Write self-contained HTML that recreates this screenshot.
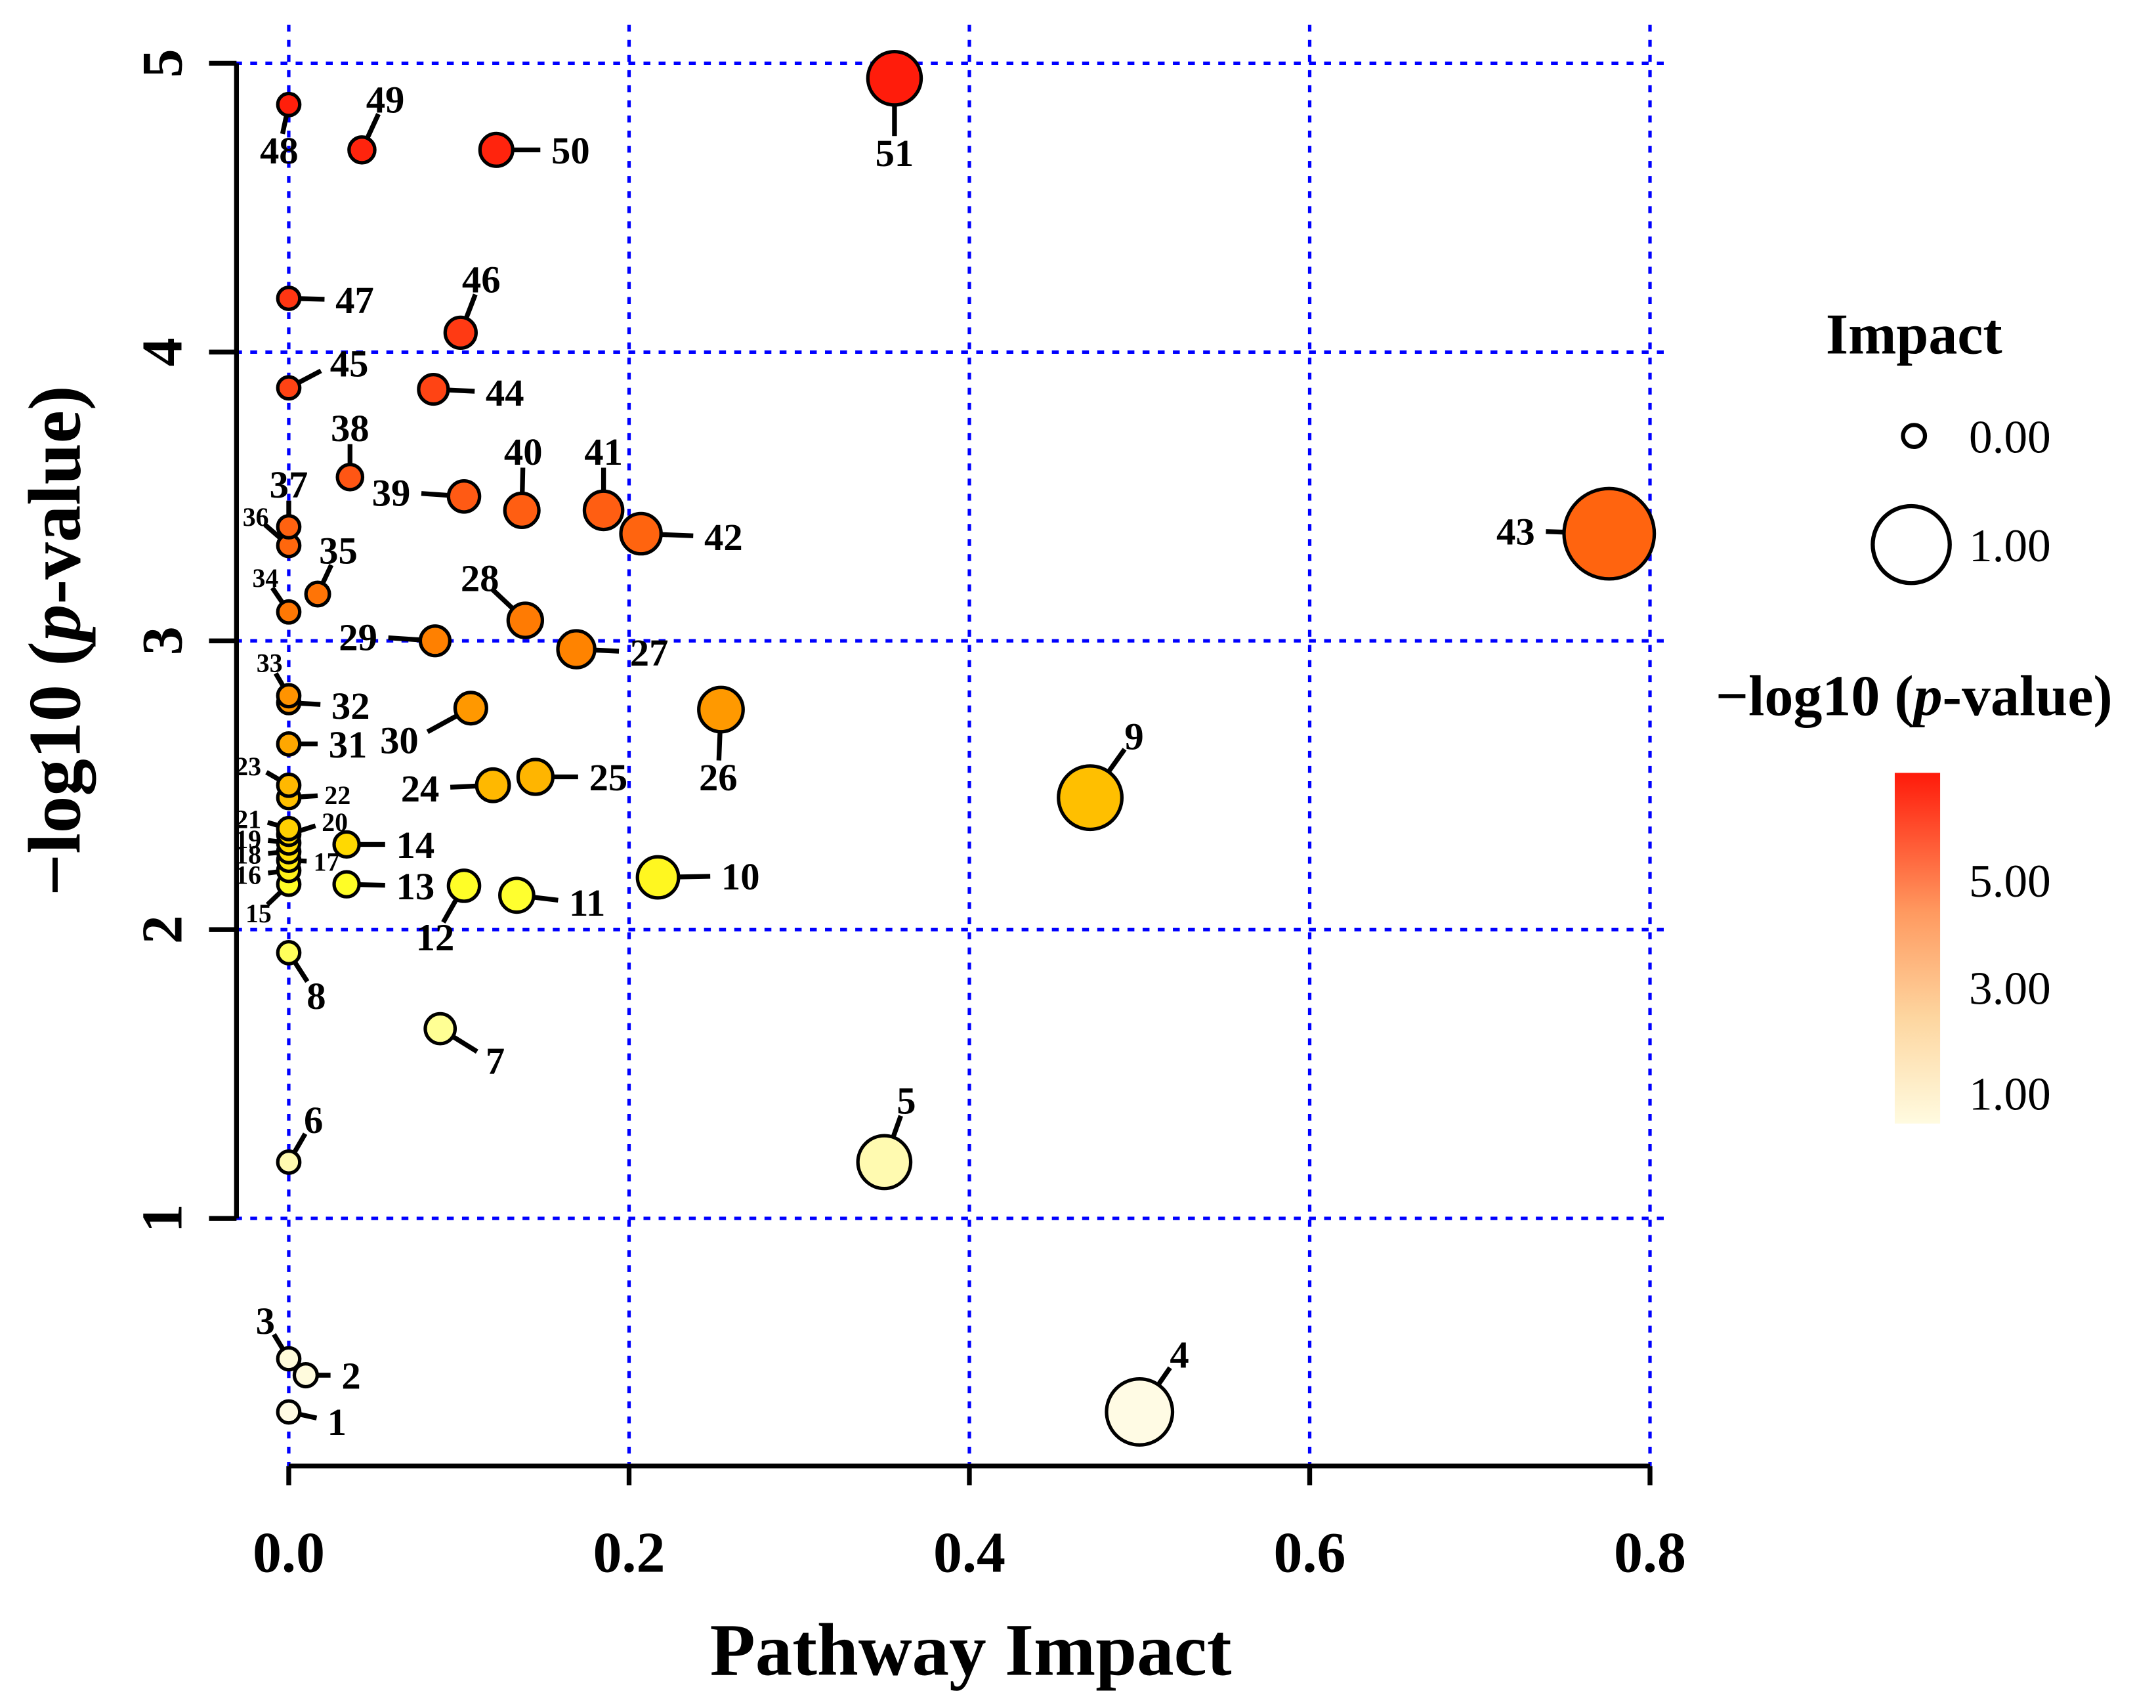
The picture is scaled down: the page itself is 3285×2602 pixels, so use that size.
<!DOCTYPE html>
<html><head><meta charset="utf-8"><style>
html,body{margin:0;padding:0;background:#fff;}
svg{display:block;font-family:"Liberation Serif",serif;font-weight:bold;}
</style></head><body>
<svg id="chart" width="3285" height="2602" viewBox="0 0 1568 1242" xmlns="http://www.w3.org/2000/svg">
<g id="grid"></g>
<g id="axes"></g>
<g id="points"></g>
<g id="labels"></g>
<text x="706" y="1218" font-size="54" text-anchor="middle">Pathway Impact</text>
<text transform="translate(58,466) rotate(-90)" font-size="54" text-anchor="middle">−log10 (<tspan font-style="italic">p</tspan>-value)</text>
<g>
<text x="1392" y="257" font-size="42" text-anchor="middle">Impact</text>
<circle cx="1392" cy="317" r="8" fill="#fff" stroke="#000" stroke-width="3"/>
<text x="1432" y="329" font-size="34" font-weight="normal">0.00</text>
<circle cx="1390" cy="396" r="28" fill="#fff" stroke="#000" stroke-width="3"/>
<text x="1432" y="408" font-size="34" font-weight="normal">1.00</text>
</g>
<g>
<text x="1392" y="520" font-size="42" text-anchor="middle">−log10 (<tspan font-style="italic">p</tspan>-value)</text>
<defs><linearGradient id="cb" x1="0" y1="1" x2="0" y2="0">
<stop offset="0" stop-color="#fffbe0"/><stop offset="0.3" stop-color="#fdd6a0"/><stop offset="0.6" stop-color="#ff9a60"/><stop offset="1" stop-color="#ff1a0a"/></linearGradient></defs>
<rect x="1378" y="562" width="33" height="255" fill="url(#cb)"/>
<text x="1432" y="652" font-size="34" font-weight="normal">5.00</text>
<text x="1432" y="730" font-size="34" font-weight="normal">3.00</text>
<text x="1432" y="807" font-size="34" font-weight="normal">1.00</text>
</g>
</svg>
<script>
const ids=[1,2,3,4,5,6,7,8,9,10,11,12,13,14,15,16,17,18,19,20,21,22,23,24,25,26,27,28,29,30,31,32,33,34,35,36,37,38,39,40,41,42,43,44,45,46,47,48,49,50,51];
const impactVals=[0,0.01,0,0.5,0.35,0,0.089,0,0.471,0.217,0.134,0.103,0.034,0.034,0,0,0,0,0,0,0,0,0,0.12,0.145,0.254,0.169,0.139,0.086,0.107,0,0,0,0,0.017,0,0,0.036,0.103,0.137,0.185,0.207,0.776,0.085,0,0.101,0,0,0.043,0.122,0.356];
const logpVals=[0.33,0.457,0.514,0.33,1.195,1.195,1.657,1.92,2.457,2.181,2.119,2.152,2.157,2.295,2.157,2.205,2.24,2.27,2.30,2.33,2.35,2.457,2.5,2.5,2.529,2.762,2.971,3.071,3.0,2.767,2.643,2.786,2.81,3.1,3.162,3.33,3.395,3.567,3.5,3.452,3.452,3.371,3.371,3.871,3.876,4.067,4.186,4.857,4.7,4.7,4.948];
const xTicks=[0,0.2,0.4,0.6,0.8];
const xTickLabels=["0.0","0.2","0.4","0.6","0.8"];
const yTicks=[1,2,3,4,5];
const yTickLabels=["1","2","3","4","5"];
// label offsets (dx,dy) from point, layout only
const labelDx=[32,30,-17,29,16,18,37,20,32,50,42,-21,40,40,-22,-24,22,-24,-24,28,-24,30,-24,-43,43,-2,43,-33,-46,-42,33,35,-14,-17,15,-24,0,0,-43,1,0,50,-58,42,34,15,38,-7,17,44,0];
const labelDy=[7,0,-28,-42,-45,-31,23,31,-45,-1,5,37,1,0,21,3,1,2,-3,-9,-7,-2,-14,2,0,49,2,-31,-3,23,0,2,-24,-25,-32,-21,-31,-36,-3,-43,-43,2,-2,2,-18,-39,1,33,-37,0,54];
const X=v=>210+v*1237.5, Y=v=>46+(5-v)*210, R=v=>8+32*v;
const NS="http://www.w3.org/2000/svg";
function mk(t,a,p){const e=document.createElementNS(NS,t);for(const k in a)e.setAttribute(k,a[k]);p.appendChild(e);return e;}
const stops=[[0.3,[255,251,230]],[1.2,[255,250,176]],[1.65,[255,255,150]],[2.15,[255,255,40]],[2.3,[255,216,0]],[2.5,[255,184,0]],[2.8,[255,148,0]],[3.0,[255,128,0]],[3.5,[255,90,20]],[4.0,[255,60,20]],[5.0,[255,26,10]]];
function col(v){if(v<=stops[0][0])return'rgb('+stops[0][1]+')';for(let i=1;i<stops.length;i++){if(v<=stops[i][0]){const t=(v-stops[i-1][0])/(stops[i][0]-stops[i-1][0]);const c=stops[i-1][1].map((a,j)=>Math.round(a+(stops[i][1][j]-a)*t));return'rgb('+c+')';}}return'rgb('+stops[stops.length-1][1]+')';}
const grid=document.getElementById('grid'),axes=document.getElementById('axes'),pts=document.getElementById('points'),lbs=document.getElementById('labels');
xTicks.forEach((t,i)=>{
 let g=mk('line',{x1:X(t),x2:X(t),y1:18,y2:1066,stroke:'#0000ff','stroke-width':2.5,'stroke-dasharray':'5,6'},grid);
 
 
 let tk=mk('line',{x1:X(t),x2:X(t),y1:1066,y2:1080,stroke:'#000','stroke-width':3.5},axes);
 
 
 let tx=mk('text',{x:X(t),y:1143,'font-size':42,'text-anchor':'middle'},axes);tx.textContent=xTickLabels[i];
 
 
});
yTicks.forEach((t,i)=>{
 let g=mk('line',{x1:160,x2:1214,y1:Y(t),y2:Y(t),stroke:'#0000ff','stroke-width':2.5,'stroke-dasharray':'5,6'},grid);
 
 
 let tk=mk('line',{x1:152,x2:172,y1:Y(t),y2:Y(t),stroke:'#000','stroke-width':3.5},axes);
 
 
 let tx=mk('text',{transform:`translate(132,${Y(t)}) rotate(-90)`,'font-size':42,'text-anchor':'middle'},axes);tx.textContent=yTickLabels[i];
 
 
});
let ya=mk('line',{x1:172,x2:172,y1:Y(5),y2:Y(1),stroke:'#000','stroke-width':3.5},axes);


let xa=mk('line',{x1:X(0),x2:X(0.8),y1:1066,y2:1066,stroke:'#000','stroke-width':3.5},axes);


const small=new Set([15,16,17,18,19,20,21,22,23,33,34,36]);
ids.forEach((id,i)=>{
 const cx=X(impactVals[i]),cy=Y(logpVals[i]),r=R(impactVals[i]);
 const c=mk('circle',{cx,cy,r,fill:col(logpVals[i]),stroke:'#000','stroke-width':2.5},pts);
 
 
 const dx=labelDx[i],dy=labelDy[i],d=Math.hypot(dx,dy);
 const fs=small.has(id)?19:28;
 const e0=Math.min(d,r),e1=Math.max(e0,d-(small.has(id)?9:12));
 if(e1>e0+2){const l=mk('line',{x1:cx+dx*e0/d,y1:cy+dy*e0/d,x2:cx+dx*e1/d,y2:cy+dy*e1/d,stroke:'#000','stroke-width':3.5},lbs);
 
 }
 const lx=cx+dx,ly=cy+dy;let anchor='middle';
 if(Math.abs(dx)>Math.abs(dy)*1.5)anchor=dx>0?'start':'end';
 const t=mk('text',{x:lx+(anchor==='start'?-4:anchor==='end'?4:0),y:ly+fs*0.35,'font-size':fs,'text-anchor':anchor},lbs);t.textContent=id;
 
 
});
</script>
</body></html>
